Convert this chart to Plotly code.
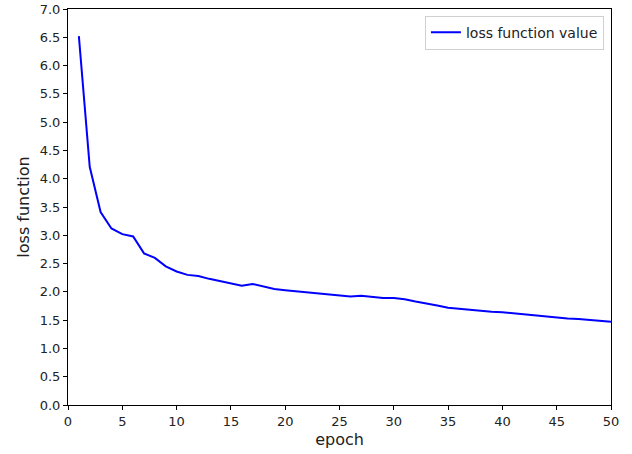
import plotly.graph_objects as go

epochs = list(range(1, 51))
loss = [6.52, 4.21, 3.41, 3.12, 3.02, 2.98, 2.68, 2.60, 2.45, 2.36,
        2.30, 2.28, 2.23, 2.19, 2.14, 2.11, 2.14, 2.09, 2.05, 2.03,
        2.01, 1.99, 1.97, 1.96, 1.94, 1.92, 1.93, 1.91, 1.89, 1.89,
        1.87, 1.83, 1.80, 1.76, 1.72, 1.70, 1.69, 1.67, 1.65, 1.64,
        1.62, 1.60, 1.58, 1.56, 1.55, 1.53, 1.52, 1.50, 1.49, 1.47]

fig = go.Figure()
fig.add_trace(go.Scatter(x=epochs, y=loss, mode="lines", name="loss function value",
                         line=dict(color="#0000ff", width=2)))

font = "DejaVu Sans"
fig.update_layout(
    width=632, height=454,
    margin=dict(l=68, r=21, t=9, b=49),
    paper_bgcolor="white", plot_bgcolor="white",
    font=dict(family=font, size=13, color="#222"),
    showlegend=True,
    legend=dict(x=0.987, y=0.983, xanchor="right", yanchor="top",
                bordercolor="#d0d0d0", borderwidth=1, bgcolor="rgba(255,255,255,0.8)",
                font=dict(size=14, family=font)),
    xaxis=dict(range=[0, 50], tick0=0, dtick=5, showgrid=False, zeroline=False,
               showline=True, linecolor="black", linewidth=1, mirror=True,
               ticks="outside", ticklen=4, tickcolor="black", automargin=False,
               title=dict(text="epoch", font=dict(size=16, family=font), standoff=6)),
    yaxis=dict(range=[0, 7], tick0=0, dtick=0.5, tickformat=".1f", showgrid=False, zeroline=False,
               showline=True, linecolor="black", linewidth=1, mirror=True,
               ticks="outside", ticklen=4, tickcolor="black", automargin=False,
               title=dict(text="loss function", font=dict(size=16, family=font), standoff=6)),
)

fig.write_html("out.html", config={"displayModeBar": False},
               post_script="document.body.style.margin='0';")
